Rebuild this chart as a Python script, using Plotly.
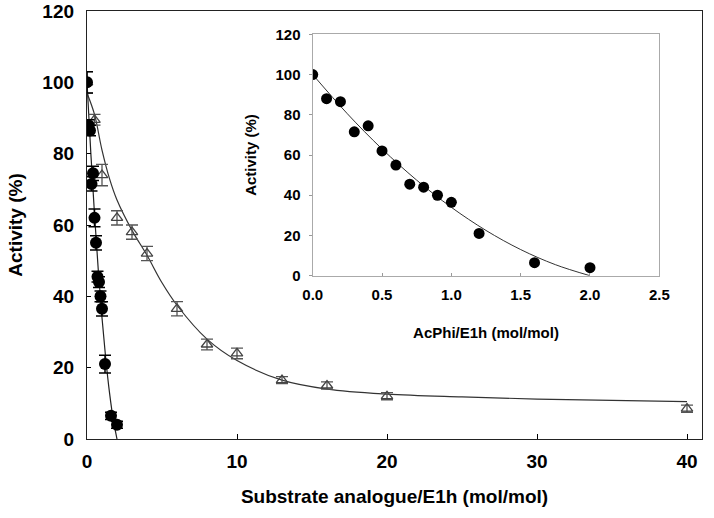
import plotly.graph_objects as go

# Triangles (open) - main plot
tri_x = [0, 0.5, 1, 2, 3, 4, 6, 8, 10, 13, 16, 20, 40]
tri_y = [100, 89.5, 74, 62, 58, 52, 36.5, 26.5, 24, 16.5, 15, 12, 8.5]
tri_err = [3, 1.5, 3, 2, 2, 2, 2, 1.5, 1.5, 1, 1, 1, 1]
# Triangle fit curve
tfit_x = [0, 0.5, 1, 1.5, 2, 3, 4, 5, 6, 8, 10, 13, 16, 20, 25, 30, 40]
tfit_y = [97, 91, 81, 73, 67, 58.5, 51.5, 43.8, 37.5, 28, 22, 16.5, 14, 12.6, 11.8, 11.2, 10.5]

# Circles (AcPhi)
circ_x = [0, 0.1, 0.2, 0.3, 0.4, 0.5, 0.6, 0.7, 0.8, 0.9, 1.0, 1.2, 1.6, 2.0]
circ_y = [100, 88, 86.5, 71.5, 74.5, 62, 55, 45.5, 44, 40, 36.5, 21, 6.5, 4]
circ_err = [3, 1.5, 1.5, 2, 2, 2.5, 2, 1.5, 1.5, 1.5, 2, 2.5, 1, 1]
# Circle fit curve
cfit_x = [0, 0.25, 0.5, 0.75, 1.0, 1.25, 1.5, 1.75, 2.0]
cfit_y = [100, 80.5, 63, 47.5, 34, 22.5, 13, 5.5, 0]

main_xticks = [0, 10, 20, 30, 40]
main_yticks = [0, 20, 40, 60, 80, 100, 120]
inset_xticks = [0.0, 0.5, 1.0, 1.5, 2.0, 2.5]
inset_xlabels = ["0.0", "0.5", "1.0", "1.5", "2.0", "2.5"]
inset_yticks = [0, 20, 40, 60, 80, 100, 120]

FONT = "Liberation Sans"

fig = go.Figure()

# main: fits
fig.add_trace(go.Scatter(x=tfit_x, y=tfit_y, mode="lines", line=dict(color="#333", width=1.2, shape="spline"),
                         xaxis="x", yaxis="y", hoverinfo="skip"))
fig.add_trace(go.Scatter(x=cfit_x, y=cfit_y, mode="lines", line=dict(color="#222", width=1.2, shape="spline"),
                         xaxis="x", yaxis="y", hoverinfo="skip"))
# main: triangles
fig.add_trace(go.Scatter(x=tri_x, y=tri_y, mode="markers",
                         marker=dict(symbol="triangle-up-open", size=10, color="#444", line=dict(width=1.3, color="#444")),
                         error_y=dict(type="data", array=tri_err, color="#555", thickness=1.3, width=6),
                         xaxis="x", yaxis="y"))
# main: circles
fig.add_trace(go.Scatter(x=circ_x, y=circ_y, mode="markers",
                         marker=dict(symbol="circle", size=12, color="#000"),
                         error_y=dict(type="data", array=circ_err, color="#000", thickness=1.5, width=6),
                         xaxis="x", yaxis="y"))

# inset
fig.add_trace(go.Scatter(x=cfit_x, y=cfit_y, mode="lines", line=dict(color="#333", width=1, shape="spline"),
                         xaxis="x2", yaxis="y2", hoverinfo="skip"))
fig.add_trace(go.Scatter(x=circ_x, y=circ_y, mode="markers",
                         marker=dict(symbol="circle", size=11, color="#000"),
                         xaxis="x2", yaxis="y2"))

tickfont_main = dict(family=FONT, size=19, color="#000", weight="bold")
tickfont_in = dict(family=FONT, size=15, color="#000", weight="bold")

fig.update_layout(
    width=714, height=518,
    margin=dict(l=87, r=12, t=11, b=79),
    paper_bgcolor="white", plot_bgcolor="white",
    showlegend=False,
    font=dict(family=FONT),
    xaxis=dict(domain=[0, 1], range=[0, 41], tickvals=main_xticks, ticks="inside", ticklen=5,
               tickcolor="#000", showline=True, linecolor="#222", linewidth=1.3, mirror=True,
               showgrid=False, zeroline=False, tickfont=tickfont_main, automargin=False,
               ticklabelstandoff=5, ticklabeloverflow="allow",
               title=dict(text="<b>Substrate analogue/E1h (mol/mol)</b>", font=dict(family=FONT, size=19, color="#000"), standoff=18)),
    yaxis=dict(domain=[0, 1], range=[0, 120], tickvals=main_yticks, ticks="inside", ticklen=4,
               tickcolor="#000", showline=True, linecolor="#222", linewidth=1.3, mirror=True,
               showgrid=False, zeroline=False, tickfont=tickfont_main, automargin=False,
               ticklabelstandoff=8, ticklabeloverflow="allow",
               title=dict(text="<b>Activity (%)</b>", font=dict(family=FONT, size=19, color="#000"), standoff=14)),
    xaxis2=dict(domain=[0.367, 0.9306], anchor="y2", range=[0, 2.5], tickvals=inset_xticks, ticktext=inset_xlabels,
                ticks="inside", ticklen=3, tickcolor="#999", showline=True, linecolor="#aaa", linewidth=1.3, mirror=True,
                showgrid=False, zeroline=False, tickfont=tickfont_in, automargin=False,
                ticklabelstandoff=5,
                title=dict(text="<b>AcPhi/E1h (mol/mol)</b>", font=dict(family=FONT, size=15, color="#000"), standoff=25)),
    yaxis2=dict(domain=[0.3815, 0.9456], anchor="x2", range=[0, 120], tickvals=inset_yticks,
                ticks="outside", ticklen=3, tickcolor="#999", showline=True, linecolor="#aaa", linewidth=1.3, mirror=True,
                showgrid=False, zeroline=False, tickfont=tickfont_in, automargin=False,
                ticklabelstandoff=5,
                title=dict(text="<b>Activity (%)</b>", font=dict(family=FONT, size=15, color="#000"), standoff=15)),
)

fig.write_html("out.html", config={"displayModeBar": False},
               post_script="document.body.style.margin='0px';")
